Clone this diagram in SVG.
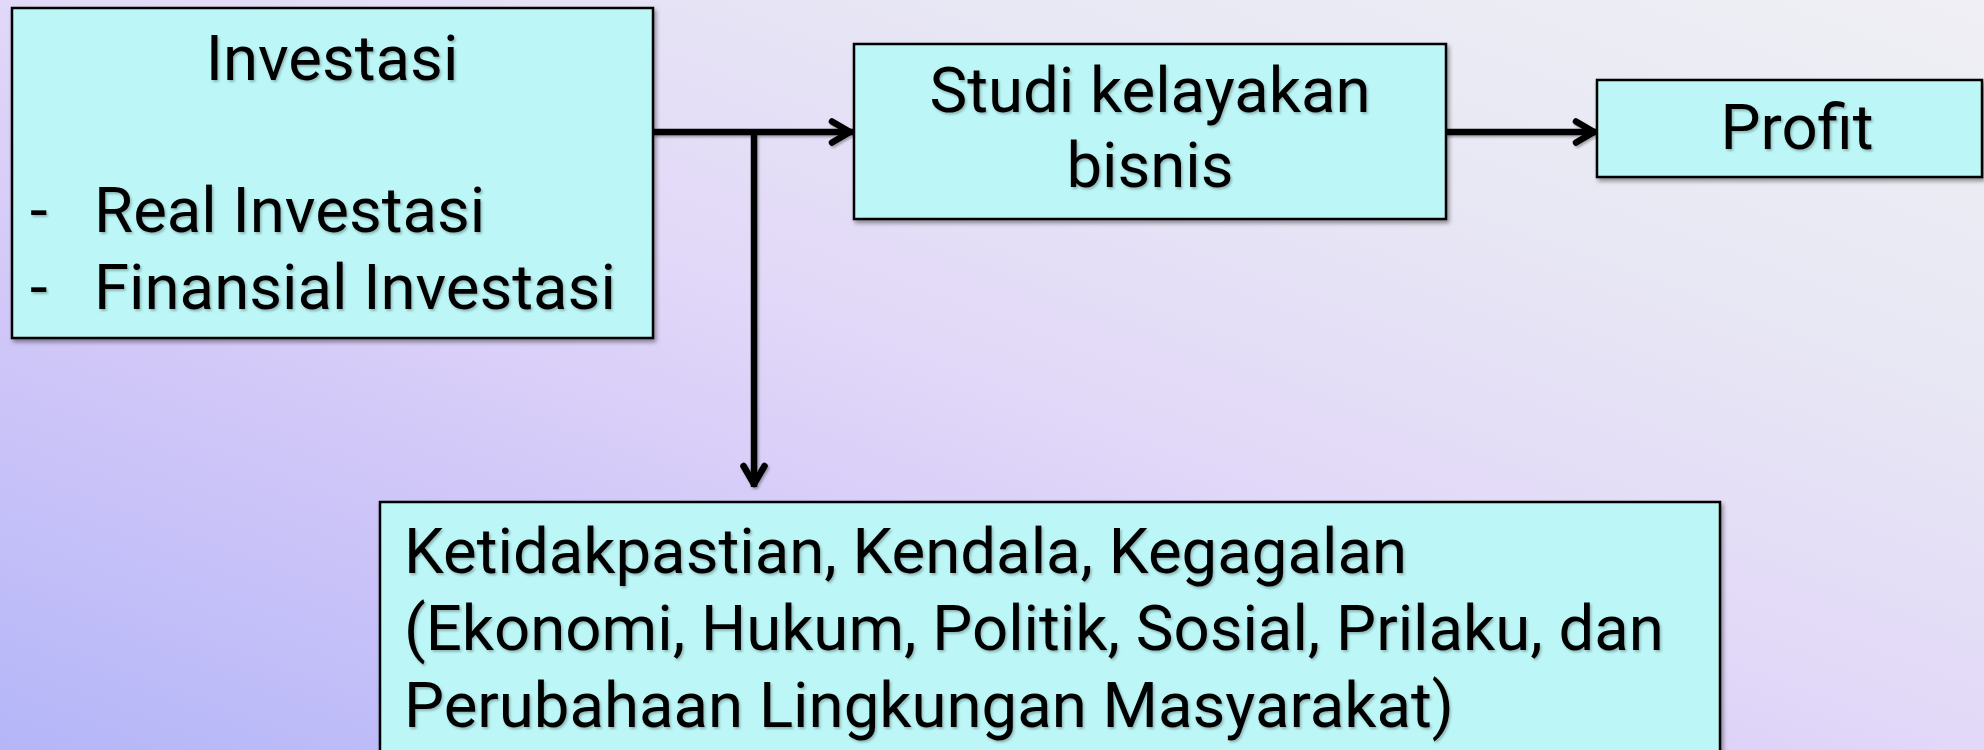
<svg xmlns="http://www.w3.org/2000/svg" width="1984" height="750" viewBox="0 0 1984 750">
  <defs>
    <linearGradient id="bg" x1="0" y1="1" x2="1" y2="0">
      <stop offset="0" stop-color="#b4b6f8"/>
      <stop offset="0.3" stop-color="#d2c8f8"/>
      <stop offset="0.5" stop-color="#e2d8f8"/>
      <stop offset="0.75" stop-color="#e8e8f4"/>
      <stop offset="1" stop-color="#efeff4"/>
    </linearGradient>
    <filter id="sh" x="-5%" y="-5%" width="110%" height="115%">
      <feDropShadow dx="2" dy="3" stdDeviation="2" flood-color="#000" flood-opacity="0.4"/>
    </filter>
    <filter id="tsh" x="-5%" y="-10%" width="110%" height="130%">
      <feDropShadow dx="1.5" dy="2" stdDeviation="1" flood-color="#000" flood-opacity="0.25"/>
    </filter>
    <filter id="lsh" filterUnits="userSpaceOnUse" x="0" y="0" width="1984" height="750">
      <feDropShadow dx="1.5" dy="2" stdDeviation="1.2" flood-color="#000" flood-opacity="0.3"/>
    </filter>
    <marker id="arr" markerUnits="userSpaceOnUse" markerWidth="30" markerHeight="30" refX="25" refY="13" orient="auto" overflow="visible">
      <path d="M4,2.5 L22,13 L4,23.5" fill="none" stroke="#000" stroke-width="6.5" stroke-linecap="round" stroke-linejoin="round"/>
    </marker>
    <style>
      .box { fill: #bcf6f6; stroke: #000; stroke-width: 2.5; filter: url(#sh); }
      .t { font-family: Roboto, "Liberation Sans", sans-serif; font-size: 63.5px; fill: #000; filter: url(#tsh); }
      .c { text-anchor: middle; }
      .conn { fill: none; stroke: #000; stroke-width: 6.5; }
    </style>
  </defs>

  <rect x="0" y="0" width="1984" height="750" fill="url(#bg)"/>

  <g id="connectors" filter="url(#lsh)">
    <path class="conn" d="M653,132 H853" marker-end="url(#arr)"/>
    <path class="conn" d="M754,132 V487" marker-end="url(#arr)"/>
    <path class="conn" d="M1446,132 H1597" marker-end="url(#arr)"/>
  </g>

  <g id="investasi">
    <rect class="box" x="12" y="8" width="641" height="330"/>
    <text class="t c" x="332" y="80">Investasi</text>
    <text class="t" x="30" y="232">-</text>
    <text class="t" x="94" y="232">Real Investasi</text>
    <text class="t" x="30" y="309">-</text>
    <text class="t" x="94" y="309">Finansial Investasi</text>
  </g>

  <g id="studi">
    <rect class="box" x="854" y="44" width="592" height="175"/>
    <text class="t c" x="1150" y="112">Studi kelayakan</text>
    <text class="t c" x="1150" y="187">bisnis</text>
  </g>

  <g id="profit">
    <rect class="box" x="1597" y="80" width="385" height="97"/>
    <text class="t c" x="1797" y="149">Profit</text>
  </g>

  <g id="kendala">
    <rect class="box" x="380" y="502" width="1340" height="260"/>
    <text class="t" x="404" y="573">Ketidakpastian, Kendala, Kegagalan</text>
    <text class="t" x="404" y="650">(Ekonomi, Hukum, Politik, Sosial, Prilaku, dan</text>
    <text class="t" x="404" y="727">Perubahaan Lingkungan Masyarakat)</text>
  </g>
</svg>
